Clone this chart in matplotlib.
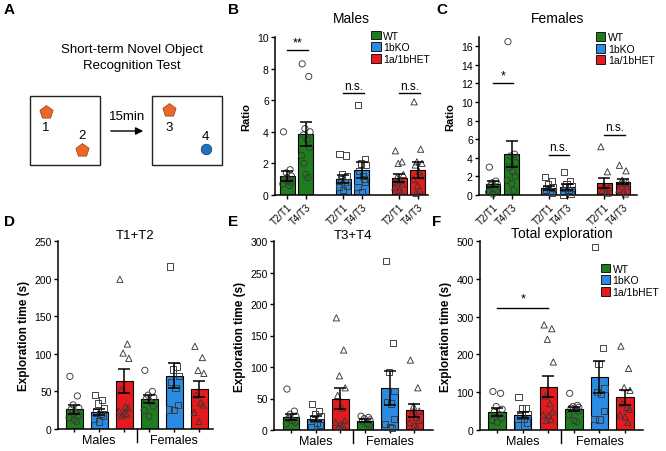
import matplotlib.pyplot as plt
from matplotlib.patches import Rectangle, Patch
import matplotlib.transforms as mtransforms

plt.rcParams['font.family'] = ['Liberation Sans', 'DejaVu Sans']

W, H = 666, 452

genotypes = ['WT', '1bKO', '1a/1bHET']
colors = ['#1f7d1f', '#2b8be2', '#e6191c']
markers = ['o', 's', '^']
ratio_ticks = ['T2/T1', 'T4/T3'] * 3
sex_groups = ['Males', 'Females']

# B - males, discrimination ratio (WT, WT, 1bKO, 1bKO, HET, HET)
b_mean = [1.2, 3.86, 1.0, 1.57, 1.06, 1.6]
b_sem = [0.3, 0.75, 0.25, 0.5, 0.25, 0.5]
b_pts = [
    [4.0, 1.6, 1.4, 1.2, 1.0, 0.9, 0.8, 0.7, 1.1, 0.6],
    [8.3, 7.5, 4.2, 4.0, 3.8, 3.5, 3.0, 2.5, 1.3, 1.1, 2.0],
    [2.6, 2.5, 1.3, 1.2, 1.0, 0.8, 0.6, 0.5, 0.3],
    [5.7, 2.3, 2.0, 1.9, 1.5, 1.2, 0.8, 0.5, 0.2, 1.0],
    [2.8, 2.1, 2.0, 1.3, 1.1, 0.9, 0.7, 0.5, 0.3, 0.2, 0.8],
    [5.9, 2.9, 2.1, 2.0, 1.9, 1.5, 1.2, 1.0, 0.6, 0.3, 0.1],
]

# C - females, discrimination ratio
c_mean = [1.19, 4.42, 0.72, 0.83, 1.3, 1.44]
c_sem = [0.3, 1.4, 0.2, 0.3, 0.5, 0.3]
c_pts = [
    [3.0, 1.5, 1.3, 1.2, 1.0, 0.7, 0.5, 0.3, 0.1],
    [16.5, 4.4, 4.2, 3.5, 3.0, 2.5, 2.0, 1.6, 1.2, 0.5],
    [1.9, 1.5, 1.2, 0.8, 0.6, 0.4, 0.2],
    [2.5, 1.5, 1.2, 1.0, 0.8, 0.5, 0.1, 0.05],
    [5.2, 2.5, 1.0, 0.8, 0.5, 0.3, 0.2],
    [3.2, 2.6, 1.6, 1.4, 1.3, 1.2, 0.9, 0.6, 0.3, 0.1],
]

# D - T1+T2 exploration time (Males WT, KO, HET, Females WT, KO, HET)
d_mean = [26, 22, 64, 40, 71, 53]
d_sem = [6, 4, 16, 5, 17, 11]
d_pts = [
    [70, 44, 32, 28, 26, 22, 18, 15, 12, 10],
    [45, 39, 34, 28, 22, 20, 17, 14, 10],
    [199, 113, 101, 94, 52, 30, 28, 24, 21, 20, 18],
    [78, 50, 45, 42, 40, 36, 30, 25, 17],
    [216, 83, 79, 71, 62, 55, 32, 26, 25],
    [110, 95, 78, 74, 45, 35, 32, 22, 10],
]

# E - T3+T4 exploration time
e_mean = [21, 18, 50, 15, 67, 31]
e_sem = [5, 4, 16, 2, 27, 11]
e_pts = [
    [65, 30, 25, 22, 18, 15, 12, 10],
    [41, 30, 25, 22, 18, 12, 8, 5],
    [178, 127, 86, 67, 55, 35, 15, 12, 10, 8, 5],
    [22, 20, 18, 16, 14, 10, 8],
    [268, 138, 92, 62, 45, 42, 18, 10, 5, 3],
    [111, 67, 38, 30, 25, 20, 15, 12, 8, 5],
]

# F - total exploration time
f_mean = [48, 39, 115, 55, 140, 86]
f_sem = [10, 8, 28, 6, 42, 20]
f_pts = [
    [102, 97, 62, 55, 48, 40, 32, 25, 20],
    [87, 58, 58, 42, 38, 30, 20, 12],
    [278, 268, 240, 180, 90, 70, 48, 40, 38, 28, 25],
    [97, 65, 62, 60, 58, 55, 50, 40, 25, 22],
    [484, 216, 175, 110, 100, 95, 50, 30, 28],
    [222, 163, 112, 105, 70, 60, 55, 40, 35, 20],
]

jit = [-0.22, 0.18, -0.05, 0.26, -0.15, 0.08, 0.22, -0.26, 0.0, 0.14, -0.1]


def px_axes(l, t, r, b):
    return [l / W, 1 - b / H, (r - l) / W, (b - t) / H]


def style(ax):
    for s in ['top', 'right']:
        ax.spines[s].set_visible(False)
    for s in ['left', 'bottom']:
        ax.spines[s].set_linewidth(1.1)
    ax.tick_params(direction='out', length=3, width=1, labelsize=7.5, pad=1.5)


def draw(ax, xs, gidx, means, sems, pts, width):
    for x, g, m, e, p in zip(xs, gidx, means, sems, pts):
        ax.bar(x, m, width=width, color=colors[g], edgecolor='black', linewidth=0.8, zorder=2)
        ox = [x + jit[k % len(jit)] * width * 1.1 for k in range(len(p))]
        ax.scatter(ox, p, marker=markers[g], s=20, facecolors='none',
                   edgecolors='#383838', linewidths=0.65, zorder=3, clip_on=False)
        ax.errorbar(x, m, yerr=e, color='black', elinewidth=1.1, capsize=4.3,
                    capthick=1.1, zorder=4)


def sig(ax, x1, x2, y, label, off, fs=9):
    ax.plot([x1, x2], [y, y], color='black', lw=1, zorder=5)
    ax.text((x1 + x2) / 2, y + off, label, ha='center', va='bottom', fontsize=fs)


def legend(ax, x, y):
    handles = [Patch(facecolor=c, edgecolor='black', linewidth=0.6) for c in colors]
    ax.legend(handles, genotypes, loc='upper left', bbox_to_anchor=(x, y), frameon=False,
              fontsize=7.5, handlelength=0.9, handleheight=0.9, handletextpad=0.25,
              labelspacing=0.15, borderaxespad=0, borderpad=0)


fig = plt.figure(figsize=(W / 100, H / 100), dpi=100)

# ---- A: schematic
ax_a = fig.add_axes([0, 0.5, 230 / W, 0.5])
ax_a.set_xlim(0, 230)
ax_a.set_ylim(226, 0)
ax_a.axis('off')
ax_a.text(132, 50, 'Short-term Novel Object', ha='center', va='center', fontsize=9.5)
ax_a.text(132, 66, 'Recognition Test', ha='center', va='center', fontsize=9.5)
ax_a.add_patch(Rectangle((30, 97), 70, 69, fill=False, lw=1, ec='#222222'))
ax_a.add_patch(Rectangle((152, 97), 70, 69, fill=False, lw=1, ec='#222222'))
ax_a.scatter([46, 82, 169], [113, 151, 111], marker='p', s=100, color='#e9682a',
             edgecolors='#9a3b10', linewidths=0.5)
ax_a.scatter([206], [150], marker='o', s=58, color='#1f73bb', edgecolors='#0d3b66',
             linewidths=0.5)
for t, x, y in [('1', 46, 128), ('2', 82, 136), ('3', 169, 128), ('4', 205, 137)]:
    ax_a.text(x, y, t, ha='center', va='center', fontsize=9.5)
ax_a.annotate('', xy=(146, 132), xytext=(108, 132),
              arrowprops=dict(arrowstyle='-|>', color='black', lw=1, mutation_scale=11))
ax_a.text(127, 117, '15min', ha='center', va='center', fontsize=9.5)

ratio_x = [0, 1, 3, 4, 6, 7]
ratio_g = [0, 0, 1, 1, 2, 2]

# ---- B
ax_b = fig.add_axes(px_axes(275, 38, 428, 196))
style(ax_b)
draw(ax_b, ratio_x, ratio_g, b_mean, b_sem, b_pts, 0.8)
ax_b.set_xlim(-0.65, 7.55)
ax_b.set_ylim(0, 10)
ax_b.set_yticks(range(0, 11, 2))
ax_b.set_xticks(ratio_x)
ax_b.set_xticklabels(ratio_ticks, rotation=45, ha='right', rotation_mode='anchor', fontsize=7)
ax_b.set_ylabel('Ratio', fontsize=8, fontweight='bold', labelpad=4)
ax_b.set_title('Males', fontsize=10, pad=11)
sig(ax_b, 0, 1.1, 9.2, '**', 0.05)
sig(ax_b, 3, 4.1, 6.45, 'n.s.', 0.1, 8.5)
sig(ax_b, 6, 7.1, 6.45, 'n.s.', 0.1, 8.5)
legend(ax_b, 0.63, 1.04)

# ---- C
ax_c = fig.add_axes(px_axes(479, 38, 637, 196))
style(ax_c)
draw(ax_c, ratio_x, ratio_g, c_mean, c_sem, c_pts, 0.8)
ax_c.set_xlim(-0.75, 7.75)
ax_c.set_ylim(0, 17)
ax_c.set_yticks(range(0, 17, 2))
ax_c.set_xticks(ratio_x)
ax_c.set_xticklabels(ratio_ticks, rotation=45, ha='right', rotation_mode='anchor', fontsize=7)
ax_c.set_ylabel('Ratio', fontsize=8, fontweight='bold', labelpad=4)
ax_c.set_title('Females', fontsize=10, pad=11)
sig(ax_c, 0, 1.1, 12.0, '*', 0.2)
sig(ax_c, 3, 4.1, 4.3, 'n.s.', 0.2, 8.5)
sig(ax_c, 6, 7.1, 6.5, 'n.s.', 0.2, 8.5)
legend(ax_c, 0.74, 1.03)

expl_x = [0, 1, 2, 3, 4, 5]
expl_g = [0, 1, 2, 0, 1, 2]


def sex_axis(ax):
    ax.set_xticks(expl_x)
    ax.set_xticklabels([])
    ax.tick_params(axis='x', length=2.5)
    for i, name in enumerate(sex_groups):
        ax.annotate(name, xy=(1 + 3 * i, 0), xycoords=('data', 'axes fraction'),
                    xytext=(0, -3.5), textcoords='offset points', ha='center', va='top',
                    fontsize=9)
    tr = mtransforms.blended_transform_factory(ax.transData, ax.transAxes)
    ax.plot([2.5, 2.5], [0, -0.07], color='black', lw=1, transform=tr, clip_on=False)
    ax.set_ylabel('Exploration time (s)', fontsize=8.5, fontweight='bold', labelpad=3)


# ---- D
ax_d = fig.add_axes(px_axes(58, 242, 213, 430))
style(ax_d)
draw(ax_d, expl_x, expl_g, d_mean, d_sem, d_pts, 0.68)
ax_d.set_xlim(-0.64, 5.56)
ax_d.set_ylim(0, 250)
ax_d.set_yticks(range(0, 251, 50))
sex_axis(ax_d)
ax_d.set_title('T1+T2', fontsize=9.5, pad=2)

# ---- E
ax_e = fig.add_axes(px_axes(274, 242, 433, 431))
style(ax_e)
draw(ax_e, expl_x, expl_g, e_mean, e_sem, e_pts, 0.68)
ax_e.set_xlim(-0.69, 5.75)
ax_e.set_ylim(0, 300)
ax_e.set_yticks(range(0, 301, 50))
sex_axis(ax_e)
ax_e.set_title('T3+T4', fontsize=9.5, pad=2)

# ---- F
ax_f = fig.add_axes(px_axes(480, 242, 643, 431))
style(ax_f)
draw(ax_f, expl_x, expl_g, f_mean, f_sem, f_pts, 0.68)
ax_f.set_xlim(-0.67, 5.7)
ax_f.set_ylim(0, 500)
ax_f.set_yticks(range(0, 501, 100))
sex_axis(ax_f)
ax_f.set_title('Total exploration', fontsize=10, pad=3)
sig(ax_f, 0, 2, 324, '*', 8)
legend(ax_f, 0.74, 0.88)

for lab, x, y in [('A', 4, 10), ('B', 228, 10), ('C', 436, 10),
                  ('D', 4, 222), ('E', 228, 222), ('F', 432, 222)]:
    fig.text(x / W, 1 - y / H, lab, fontsize=11, fontweight='bold', va='center')

fig.savefig('out.png', dpi=100)
